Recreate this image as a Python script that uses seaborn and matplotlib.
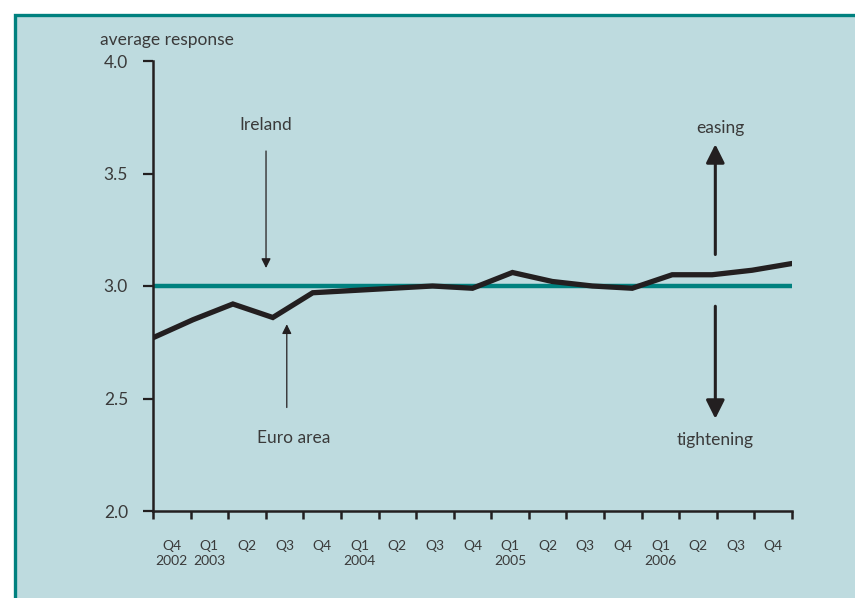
import matplotlib

matplotlib.use("Agg")
import matplotlib.pyplot as plt
import numpy as np
import pandas as pd
import seaborn as sns
from matplotlib.patches import Rectangle

# quarterly survey, Q4 2002 .. Q4 2006
quarters = ["Q4\n2002", "Q1\n2003", "Q2", "Q3", "Q4", "Q1\n2004", "Q2", "Q3", "Q4",
            "Q1\n2005", "Q2", "Q3", "Q4", "Q1\n2006", "Q2", "Q3", "Q4"]
euro_area = [2.77, 2.85, 2.92, 2.86, 2.97, 2.98, 2.99, 3.00, 2.99,
             3.06, 3.02, 3.00, 2.99, 3.05, 3.05, 3.07, 3.10]
ireland = [3.00] * len(quarters)
y_ticks = [2.0, 2.5, 3.0, 3.5, 4.0]

BG = "#bedbdf"
TEAL = "#00817f"
INK = "#231f20"
TXT = "#3a3a3a"

sns.set_theme(style="ticks")
plt.rcParams["font.family"] = ["Lato", "DejaVu Sans"]

df = pd.DataFrame({"t": np.arange(len(quarters)), "euro": euro_area, "ireland": ireland})

fig = plt.figure(figsize=(8.55, 5.98), dpi=100)
fig.patch.set_facecolor("white")
fig.patches.append(Rectangle((14.5 / 855, -0.05), 1.0, 1 - 14.5 / 598 + 0.05,
                             transform=fig.transFigure, facecolor=BG,
                             edgecolor=TEAL, linewidth=2.4, zorder=-5))

ax = fig.add_axes([153 / 855, 87 / 598, 639 / 855, 450 / 598])
ax.set_zorder(2)
ax.set_facecolor("none")

sns.lineplot(data=df, x="t", y="ireland", ax=ax, color=TEAL, linewidth=3.2,
             solid_capstyle="round", zorder=2)
sns.lineplot(data=df, x="t", y="euro", ax=ax, color=INK, linewidth=3.8,
             solid_capstyle="round", solid_joinstyle="miter", zorder=3)

n = len(quarters)
ax.set_xlim(0, n - 1)
ax.set_ylim(2.0, 4.0)
edges = np.linspace(0, n - 1, n + 1)
ax.set_xticks(edges)
ax.set_xticklabels([])
ax.set_xticks((edges[:-1] + edges[1:]) / 2, minor=True)
ax.set_xticklabels(quarters, minor=True, fontsize=10, color=TXT, linespacing=1.25)
ax.tick_params(axis="x", which="major", direction="out", length=6, width=1.8, color=INK)
ax.tick_params(axis="x", which="minor", length=0, pad=21)
ax.set_yticks(y_ticks)
ax.set_yticklabels([f"{v:.1f}" for v in y_ticks], fontsize=12.5, color=TXT)
ax.tick_params(axis="y", direction="out", length=7, width=1.6, color=INK, pad=11)
ax.set_xlabel("")
ax.set_ylabel("")
for side in ("top", "right"):
    ax.spines[side].set_visible(False)
for side in ("left", "bottom"):
    ax.spines[side].set_linewidth(1.8)
    ax.spines[side].set_color(INK)

fig.text(100 / 855, 1 - 40 / 598, "average response", fontsize=12.5, color=TXT, va="center")

thin = dict(arrowstyle="-|>", color=INK, lw=0.9, mutation_scale=14, shrinkA=0, shrinkB=0)
thick = dict(arrowstyle="-|>", color=INK, lw=2.2, mutation_scale=28, shrinkA=0, shrinkB=0)
ax.text(2.83, 3.715, "Ireland", ha="center", va="center", fontsize=12.5, color=TXT)
ax.annotate("", xy=(2.83, 3.08), xytext=(2.83, 3.60), arrowprops=thin)
ax.text(3.53, 2.325, "Euro area", ha="center", va="center", fontsize=12.5, color=TXT)
ax.annotate("", xy=(3.35, 2.83), xytext=(3.35, 2.46), arrowprops=thin)
ax.text(14.2, 3.70, "easing", ha="center", va="center", fontsize=12.5, color=TXT)
ax.annotate("", xy=(14.08, 3.63), xytext=(14.08, 3.14), arrowprops=thick)
ax.text(14.08, 2.315, "tightening", ha="center", va="center", fontsize=12.5, color=TXT)
ax.annotate("", xy=(14.08, 2.41), xytext=(14.08, 2.91), arrowprops=thick)

fig.savefig("out.png", dpi=100, facecolor=fig.get_facecolor())
